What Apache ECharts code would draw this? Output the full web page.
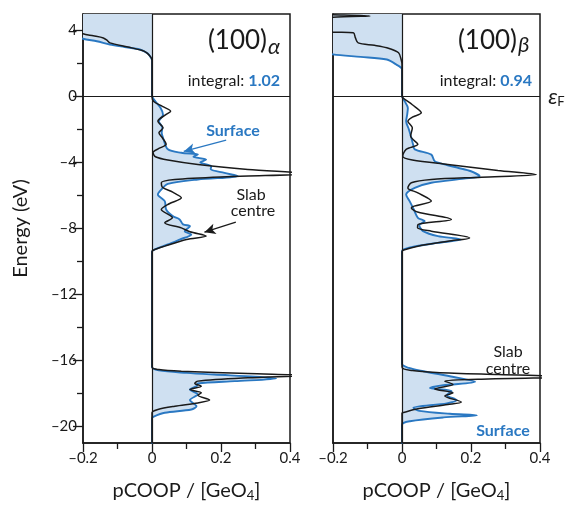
<!DOCTYPE html>
<html>
<head>
<meta charset="utf-8">
<script src="https://cdn.jsdelivr.net/npm/echarts@6/dist/echarts.min.js"></script>
<style>html,body{margin:0;padding:0;background:#fff}#c{width:566px;height:507px}</style>
</head>
<body>
<div id="c"></div>
<script>
// ---- data: [pCOOP, energy (eV)] pairs ----
const alphaSurface = [[0,5.5],[-0.35,5.5],[-0.3,4.2],[-0.2,3.5],[-0.16,3.35],[-0.122,3.15],[-0.08,3.0],[-0.035,2.85],[-0.012,2.6],[-0.003,2.35],[0,2.2],[0,0.05],
  [0.01,-0.3],[0.025,-0.7],[0.032,-1.1],[0.02,-1.5],[0.03,-1.9],[0.028,-2.2],[0.032,-2.5],[0.046,-3.2],[0.085,-3.41],[0.133,-3.52],[0.12,-3.65],[0.157,-3.82],[0.14,-4.0],[0.172,-4.22],[0.17,-4.4],[0.21,-4.63],[0.249,-4.83],[0.133,-5.03],[0.046,-5.3],[0.027,-5.64],[0.017,-5.94],[0.037,-6.34],[0.041,-6.85],[0.06,-7.25],[0.08,-7.45],[0.09,-7.75],[0.11,-7.86],[0.095,-8.16],[0.114,-8.36],[0.08,-8.67],[0.046,-8.97],[0.008,-9.27],[0,-9.4],[0,-16.4],
  [0.02,-16.6],[0.1,-16.75],[0.18,-16.85],[0.3,-16.98],[0.36,-17.09],[0.24,-17.25],[0.133,-17.39],[0.13,-17.55],[0.11,-17.76],[0.133,-18.05],[0.11,-18.4],[0.129,-18.77],[0.114,-18.97],[0.037,-19.17],[0.005,-19.4],[0,-19.5],[0,-22]];
const alphaCentre = [[0,5.5],[-0.35,5.5],[-0.3,4.6],[-0.2,3.8],[-0.17,3.68],[-0.141,3.55],[-0.13,3.4],[-0.122,3.25],[-0.07,3.0],[-0.03,2.8],[-0.015,2.65],[-0.004,2.4],[0,2.2],[0,0],
  [0.005,-0.3],[0.03,-0.6],[0.054,-0.89],[0.04,-1.1],[0.017,-1.5],[0.032,-1.9],[0.02,-2.2],[0.03,-2.5],[0.041,-2.9],[0.02,-3.15],[0.003,-3.4],[0.01,-3.65],[0.046,-3.85],[0.133,-4.12],[0.278,-4.42],[0.45,-4.68],[0.23,-4.85],[0.066,-5.03],[0.027,-5.23],[0.03,-5.5],[0.06,-5.8],[0.085,-6.14],[0.05,-6.5],[0.027,-6.85],[0.059,-7.35],[0.037,-7.65],[0.085,-7.96],[0.11,-8.2],[0.157,-8.46],[0.1,-8.67],[0.037,-9.07],[0.005,-9.3],[0,-9.4],[0,-16.4],
  [0.02,-16.55],[0.085,-16.65],[0.278,-16.79],[0.45,-16.9],[0.278,-17.05],[0.133,-17.25],[0.124,-17.39],[0.143,-17.56],[0.11,-17.76],[0.143,-17.96],[0.133,-18.1],[0.167,-18.4],[0.133,-18.57],[0.066,-18.77],[0.017,-18.97],[0,-19.17],[0,-22]];
const betaSurface = [[0,5.5],[-0.4,5.5],[-0.3,3.0],[-0.2,2.55],[-0.12,2.4],[-0.044,2.24],[-0.017,1.94],[0,1.64],[0,0.05],
  [0.008,-0.3],[0.017,-0.69],[0.015,-1.1],[0.012,-1.5],[0.02,-2.0],[0.027,-2.5],[0.032,-2.9],[0.037,-3.2],[0.085,-3.52],[0.095,-3.92],[0.13,-4.15],[0.162,-4.32],[0.2,-4.53],[0.225,-4.83],[0.18,-4.98],[0.085,-5.23],[0.037,-5.54],[0.012,-5.94],[0.022,-6.34],[0.032,-6.75],[0.046,-7.35],[0.066,-7.55],[0.05,-7.8],[0.061,-8.16],[0.104,-8.46],[0.172,-8.67],[0.104,-8.87],[0.04,-9.07],[0.005,-9.27],[0,-9.4],[0,-16.2],
  [0.02,-16.45],[0.062,-16.65],[0.15,-17.0],[0.212,-17.29],[0.12,-17.5],[0.081,-17.66],[0.144,-17.86],[0.13,-18.1],[0.158,-18.4],[0.13,-18.6],[0.033,-18.87],[0.05,-19.05],[0.139,-19.23],[0.217,-19.33],[0.12,-19.45],[0.023,-19.68],[0,-19.9],[0,-22]];
const betaCentre = [[0,5.5],[-0.4,5.5],[-0.3,5.0],[-0.2,4.95],[-0.093,4.88],[-0.2,4.8],[-0.3,4.4],[-0.25,4.0],[-0.2,3.9],[-0.141,3.86],[-0.135,3.55],[-0.127,3.25],[-0.08,3.1],[-0.044,2.95],[-0.01,2.65],[-0.002,2.2],[0,1.94],[0,0],
  [0.007,-0.15],[0.03,-0.5],[0.056,-0.99],[0.03,-1.25],[0.017,-1.5],[0.03,-1.9],[0.025,-2.4],[0.046,-2.9],[0.012,-3.2],[0.002,-3.62],[0.03,-3.85],[0.133,-4.12],[0.278,-4.48],[0.389,-4.73],[0.23,-4.89],[0.085,-5.03],[0.027,-5.23],[0.017,-5.54],[0.046,-5.84],[0.085,-6.34],[0.027,-6.75],[0.045,-7.0],[0.143,-7.45],[0.046,-7.76],[0.045,-7.95],[0.085,-8.16],[0.196,-8.57],[0.133,-8.77],[0.046,-9.07],[0.005,-9.3],[0,-9.4],[0,-16.4],
  [0.03,-16.6],[0.1,-16.72],[0.28,-16.85],[0.5,-17.0],[0.25,-17.12],[0.124,-17.25],[0.148,-17.45],[0.095,-17.72],[0.148,-17.96],[0.124,-18.15],[0.172,-18.52],[0.133,-18.67],[0.046,-18.93],[0.005,-19.15],[0,-19.2],[0,-22]];

const energyTicks = [-20,-16,-12,-8,-4,0,4];
const energyMinorTicks = [-18,-14,-10,-6,-2,2];
const panelTitles = ['α','β'];
const integrals = ['1.02','0.94'];

const BLUE = '#2a78c2', FILL = '#cfe0f1', INK = '#1a1a1a', FONT = 'Lato';
const SMOOTH = 0.3;

function dash(v){ if (Math.abs(v) < 1e-9) return '0'; return v < 0 ? '\u2013' + String(Math.abs(v)) : String(v); }
function xdash(v){ if (Math.abs(v) < 1e-9) return '0'; return (v < 0 ? '\u2013' : '') + Math.abs(v).toFixed(1); }

const chart = echarts.init(document.getElementById('c'), null, {renderer:'canvas'});

const grids = [
  {left:83, top:14, width:207, height:429, show:true, borderColor:INK, borderWidth:1.5, backgroundColor:'transparent'},
  {left:333, top:14, width:207, height:429, show:true, borderColor:INK, borderWidth:1.5, backgroundColor:'transparent'}
];

const xName = '{a|pCOOP / [GeO}{s|4}{a|]}';
const xAxes = [0,1].map(i => ({
  type:'value', gridIndex:i, position:'bottom', min:-0.2, max:0.4, interval:0.2,
  axisLine:{show:true, onZero:false, lineStyle:{color:INK, width:1.5}},
  axisTick:{show:true, length:9, lineStyle:{color:INK, width:1.3}},
  minorTick:{show:true, splitNumber:2, length:6, lineStyle:{color:INK, width:1.3}},
  splitLine:{show:false}, minorSplitLine:{show:false},
  axisLabel:{formatter:xdash, color:INK, fontFamily:FONT, fontSize:15, margin:8},
  name:xName, nameLocation:'middle', nameGap:37,
  nameTextStyle:{rich:{a:{fontFamily:FONT, fontSize:20, color:INK}, s:{fontFamily:FONT, fontSize:13, color:INK, padding:[9,0,0,0]}}}
}));

const yAxes = [
  {type:'value', gridIndex:0, position:'left', min:-21, max:5,
   axisLine:{show:true, onZero:false, lineStyle:{color:INK, width:1.5}},
   axisTick:{show:true, length:10, customValues:energyTicks, lineStyle:{color:INK, width:1.3}},
   axisLabel:{customValues:energyTicks, formatter:dash, color:INK, fontFamily:FONT, fontSize:15, margin:6},
   splitLine:{show:false},
   name:'Energy (eV)', nameLocation:'middle', nameGap:52,
   nameTextStyle:{fontFamily:FONT, fontSize:20, color:INK}},
  {type:'value', gridIndex:1, position:'left', min:-21, max:5,
   axisLine:{show:true, onZero:false, lineStyle:{color:INK, width:1.5}},
   axisTick:{show:false}, axisLabel:{show:false}, splitLine:{show:false}},
  {type:'value', gridIndex:0, position:'left', offset:0, min:-21, max:5,
   axisLine:{show:false, onZero:false},
   axisTick:{show:true, length:6, customValues:energyMinorTicks, lineStyle:{color:INK, width:1.3}},
   axisLabel:{show:false}, splitLine:{show:false}}
];

function fillSeries(i, pts){
  return {type:'custom', xAxisIndex:i, yAxisIndex:i, clip:true, silent:true, z:1,
    data:[[0,0]],
    renderItem:(params, api) => ({type:'polygon', shape:{points: pts.map(p => api.coord(p))},
      style:{fill:FILL}})};
}
function lineSeries(i, pts, color, width, extra){
  return Object.assign({type:'line', xAxisIndex:i, yAxisIndex:i, data:pts, showSymbol:false, symbol:'none',
    smooth:SMOOTH, clip:true, silent:true, z:3, lineStyle:{color, width}}, extra||{});
}
function zeroLines(extraData){
  return {silent:true, symbol:'none', label:{show:false}, animation:false,
    lineStyle:{color:INK, width:1.2, type:'solid'},
    data:[{xAxis:0}, {yAxis:0}].concat(extraData||[])};
}
function arrow(from, to, color){
  return [{coord:from, symbol:'none', lineStyle:{color, width:1.3, type:'solid'}},
          {coord:to, symbol:'arrow', symbolSize:[8,11]}];
}

const series = [
  fillSeries(0, alphaSurface),
  fillSeries(1, betaSurface),
  lineSeries(0, alphaSurface, BLUE, 1.9, {markLine: {silent:true, symbol:'none', label:{show:false}, animation:false,
      data:[arrow([0.215,-2.65],[0.092,-3.33],BLUE)]}}),
  lineSeries(1, betaSurface, BLUE, 1.9),
  lineSeries(0, alphaCentre, INK, 1.5, {z:4, markLine: zeroLines([arrow([0.243,-7.62],[0.152,-8.22],INK)])}),
  lineSeries(1, betaCentre, INK, 1.5, {z:4, markLine: zeroLines()})
];

const txt = (text, x, y, o) => ({type:'text', x, y, silent:true, z:10,
  style:Object.assign({text, fontFamily:FONT, fontSize:16, fill:INK, textAlign:'center', textVerticalAlign:'middle'}, o||{})});
const integral = (val, x, y) => ({type:'text', x, y, silent:true, z:10,
  style:{text:'{a|integral: }{b|' + val + '}', textAlign:'right', textVerticalAlign:'middle',
    rich:{a:{fontFamily:FONT, fontSize:16, fill:INK, color:INK}, b:{fontFamily:FONT, fontSize:16, fontWeight:'bold', color:BLUE, fill:BLUE}}}});

const graphic = [
  txt('(100)', 267, 41, {fontSize:26, textAlign:'right'}),
  txt(panelTitles[0], 268, 47, {fontSize:22, fontStyle:'italic', textAlign:'left'}),
  integral(integrals[0], 280, 81),
  txt('(100)', 517, 41, {fontSize:26, textAlign:'right'}),
  txt(panelTitles[1], 518, 45, {fontSize:22, fontStyle:'italic', textAlign:'left'}),
  integral(integrals[1], 532, 81),
  txt('\u03b5', 553, 97, {fontSize:22, fontStyle:'italic'}),
  txt('F', 561, 102, {fontSize:13}),
  txt('Surface', 233, 131, {fontWeight:'bold', fill:BLUE}),
  txt('Slab', 251, 195),
  txt('centre', 253, 211),
  txt('Slab', 508, 352),
  txt('centre', 508, 369),
  txt('Surface', 503, 431, {fontWeight:'bold', fill:BLUE})
];

chart.setOption({animation:false, backgroundColor:'#fff', grid:grids, xAxis:xAxes, yAxis:yAxes, series, graphic});
</script>
</body>
</html>
